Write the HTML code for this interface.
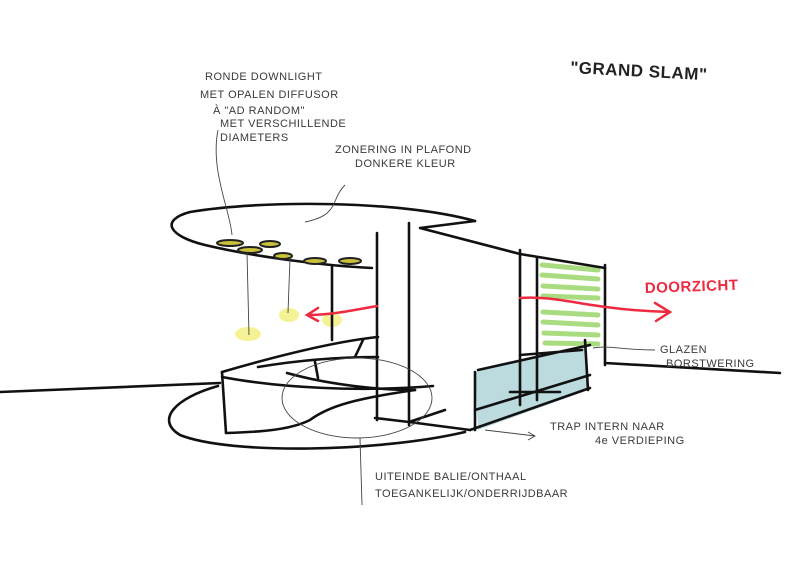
<!DOCTYPE html>
<html><head><meta charset="utf-8"><style>
html,body{margin:0;padding:0;background:#fff;}
svg{display:block}
text{font-family:"Liberation Sans",sans-serif;fill:#3a3a3a;font-size:11px;letter-spacing:0.5px}
</style></head><body>
<svg width="800" height="566" viewBox="0 0 800 566" xmlns="http://www.w3.org/2000/svg">
<rect width="800" height="566" fill="#fff"/>
<g stroke="#9bd66a" stroke-width="5" stroke-linecap="round" opacity="0.85">
<line x1="542" y1="265" x2="598" y2="270"/><line x1="542" y1="275" x2="598" y2="279"/>
<line x1="543" y1="286" x2="598" y2="289"/><line x1="543" y1="296" x2="598" y2="298"/>
<line x1="543" y1="312" x2="598" y2="315"/><line x1="543" y1="322" x2="598" y2="325"/>
<line x1="544" y1="333" x2="598" y2="335"/><line x1="545" y1="343" x2="598" y2="344"/>
</g>
<polygon points="475,372 585,345 588,390 478,430" fill="#8fc3c8" opacity="0.6"/>
<g fill="#f2f07a" opacity="0.8">
<ellipse cx="248" cy="334" rx="13" ry="7"/><ellipse cx="289" cy="315" rx="10" ry="7"/><ellipse cx="332" cy="320" rx="10" ry="7"/>
</g>
<g fill="none" stroke="#111" stroke-width="2.6" stroke-linecap="round" stroke-linejoin="round">
<path d="M475,221 C400,200 260,200 190,212 C160,220 168,236 205,245 C260,258 330,266 372,268"/>
<path d="M475,221 L420,228 L520,254 L605,268"/>
<path d="M218,386 C175,398 155,420 180,435 C230,455 380,452 465,432"/>
<path d="M0,392 L220,383"/>
<line x1="409" y1="223" x2="409" y2="425"/>
<line x1="377" y1="233" x2="377" y2="420"/>
<line x1="332" y1="267" x2="332" y2="340"/>
<line x1="520" y1="250" x2="520" y2="405"/>
<line x1="537" y1="258" x2="537" y2="400"/>
<line x1="605" y1="265" x2="605" y2="365"/>
<line x1="605" y1="363" x2="780" y2="373"/>
<!-- desk -->
<path d="M222,372 C270,358 330,342 378,337"/>
<path d="M258,367 C300,360 340,357 378,357"/>
<line x1="363" y1="340" x2="355" y2="357"/>
<line x1="315" y1="362" x2="318" y2="378"/>
<path d="M222,377 C280,388 360,392 433,386"/>
<path d="M287,373 C330,385 380,390 415,390"/>
<path d="M415,390 C360,398 330,405 310,420 C290,430 260,432 226,433"/>
<line x1="222" y1="372" x2="226" y2="433"/>
<!-- floor / stairs -->
<path d="M375,418 L409,422 L470,430 M409,422 L445,410"/>
<path d="M470,430 L590,388 M475,410 L590,375 M478,370 L590,345 M520,355 L582,350"/>
<line x1="475" y1="372" x2="475" y2="430"/>
<line x1="585" y1="340" x2="588" y2="390"/>
<line x1="510" y1="392" x2="560" y2="392"/>
</g>
<g fill="#c9c23a" stroke="#222" stroke-width="2">
<ellipse cx="230" cy="243" rx="13" ry="3"/><ellipse cx="250" cy="250" rx="12" ry="3"/>
<ellipse cx="270" cy="244" rx="10" ry="3"/><ellipse cx="283" cy="256" rx="9" ry="3"/>
<ellipse cx="315" cy="261" rx="11" ry="3"/><ellipse cx="350" cy="261" rx="11" ry="3"/>
</g>
<g fill="none" stroke="#444" stroke-width="0.9">
<path d="M218,130 C210,170 230,210 232,235"/>
<path d="M345,185 C330,200 340,215 305,222"/>
<line x1="247" y1="253" x2="249" y2="335"/>
<line x1="290" y1="258" x2="288" y2="313"/>
<ellipse cx="357" cy="398" rx="75" ry="40"/>
<path d="M360,438 L362,505"/>
<path d="M593,348 C610,345 620,350 655,350"/>
<path d="M485,430 L535,436 M528,432 L535,436 L528,440"/>
</g>
<g fill="none" stroke="#ee2a40" stroke-width="2.5" stroke-linecap="round">
<path d="M377,306 C355,310 330,315 308,315 M318,308 L307,315 L318,321"/>
<path d="M520,298 C560,295 590,310 670,312 M655,303 L670,312 L656,321"/>
</g>
<text x="205" y="80">RONDE DOWNLIGHT</text>
<text x="200" y="98">MET OPALEN DIFFUSOR</text>
<text x="213" y="114">À "AD RANDOM"</text>
<text x="220" y="127" font-size="10">MET VERSCHILLENDE</text>
<text x="220" y="141" font-size="10">DIAMETERS</text>
<text x="335" y="153">ZONERING IN PLAFOND</text>
<text x="355" y="167">DONKERE KLEUR</text>
<text x="570" y="73" transform="rotate(3 570 73)" style="font-size:17px;font-weight:bold;fill:#222">"GRAND SLAM"</text>
<text x="645" y="293" transform="rotate(-2 645 293)" style="font-size:15px;font-weight:bold;fill:#ee2a40">DOORZICHT</text>
<text x="660" y="353">GLAZEN</text>
<text x="666" y="367">BORSTWERING</text>
<text x="550" y="430">TRAP INTERN NAAR</text>
<text x="595" y="444">4e VERDIEPING</text>
<text x="375" y="480">UITEINDE BALIE/ONTHAAL</text>
<text x="375" y="497">TOEGANKELIJK/ONDERRIJDBAAR</text>
</svg>
</body></html>
